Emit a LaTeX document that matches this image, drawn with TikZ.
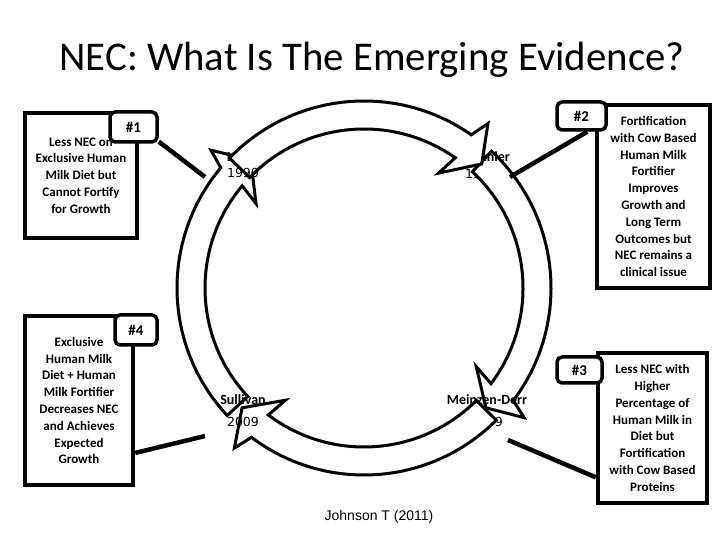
\documentclass[tikz,border=0pt]{standalone}
\usepackage{fontspec}
\setmainfont{Carlito}
\newfontfamily\yearfont{DejaVu Sans}
\newfontfamily\citefont{Liberation Sans}
\usetikzlibrary{calc}
\tikzset{
 infobox/.style={draw, line width=4.5pt, fill=white, align=center, font=\bfseries\fontsize{13}{16.8}\selectfont, inner sep=0pt},
 tagbox/.style={draw, line width=3.5pt, rounded corners=5pt, fill=white, font=\bfseries\fontsize{15}{18}\selectfont, inner sep=0pt},
 link/.style={line width=4.5pt},
 cyc/.style={draw, line width=3pt, fill=white, line join=miter},
 who/.style={font=\bfseries\fontsize{14}{16}\selectfont, inner sep=0pt},
 yr/.style={font=\yearfont\fontsize{12.5}{15}\selectfont, inner sep=0pt},
}
\newcommand\NECarrow[3]{%
 \path[cyc] ($(C)+(#1:187)$) arc[start angle=#1, end angle=#2, radius=187]
 -- ($(C)+({#2-2}:206)$) -- ($(C)+(#3:171)$) -- ($(C)+({#2+2}:137)$)
 -- ($(C)+(#2:159)$) arc[start angle=#2, end angle=#1, radius=159] -- cycle;}
\begin{document}
\begin{tikzpicture}[x=1pt,y=1pt]
\useasboundingbox[fill=white] (0,0) rectangle (720,540);
\coordinate (C) at (364,252);

\node[font=\fontsize{40.8}{48}\selectfont, inner sep=0pt] (title) at (372,480) {NEC: What Is The Emerging Evidence?};
\node[font=\citefont\fontsize{14}{16}\selectfont, inner sep=0pt] (cite) at (379,23) {Johnson T (2011)};

% labels below the arrows
\node[yr] (y1999) at (481,366) {1999};
\node[yr] (y2009b) at (487,118) {2009};

% cycle arrows
\NECarrow{47}{-37}{-44.5}
\NECarrow{-45}{-127}{-135.5}
\NECarrow{223}{140}{131.5}

\node[who] (schanler) at (485,383) {Schanler};
\node[who] (lucas) at (243,383) {Lucas};

\NECarrow{136}{55}{46.5}

% labels above the arrows
\node[yr] (y1990) at (243,367) {1990};
\node[who] (meinzen) at (487,140) {Meinzen-Derr};
\node[who] (sullivan) at (243,140) {Sullivan};
\node[yr] (y2009a) at (243,118) {2009};

% boxes
\node[infobox, minimum width=112, minimum height=125] (box1) at (81,364.5)
 {Less NEC on\\Exclusive Human\\Milk Diet but\\Cannot Fortify\\for Growth};
\node[infobox, minimum width=113, minimum height=183] (box2) at (653.5,343.5)
 {Fortification\\with Cow Based\\Human Milk\\Fortifier\\Improves\\Growth and\\Long Term\\Outcomes but\\NEC remains a\\clinical issue};
\node[infobox, minimum width=109, minimum height=150] (box3) at (652.5,112)
 {Less NEC with\\Higher\\Percentage of\\Human Milk in\\Diet but\\Fortification\\with Cow Based\\Proteins};
\node[infobox, minimum width=108, minimum height=169] (box4) at (79,139.5)
 {Exclusive\\Human Milk\\Diet + Human\\Milk Fortifier\\Decreases NEC\\and Achieves\\Expected\\Growth};

% connector ends
\coordinate (r1) at (205,363);
\coordinate (r2) at (510,363);
\coordinate (r3) at (508,100);
\coordinate (r4) at (205,104);

% tags
\node[tagbox, minimum width=47, minimum height=30] (tag1) at (133.5,413) {\#1};
\node[tagbox, minimum width=49, minimum height=28] (tag2) at (581.5,424) {\#2};
\node[tagbox, minimum width=45, minimum height=26] (tag3) at (579.5,170) {\#3};
\node[tagbox, minimum width=42, minimum height=30] (tag4) at (136,210) {\#4};

\draw[link] (tag1.-30) -- (r1);
\draw[link] (tag2.-70) -- (r2);
\draw[link] (box3.221) -- (r3);
\draw[link] (box4.-43.6) -- (r4);
\end{tikzpicture}
\end{document}
